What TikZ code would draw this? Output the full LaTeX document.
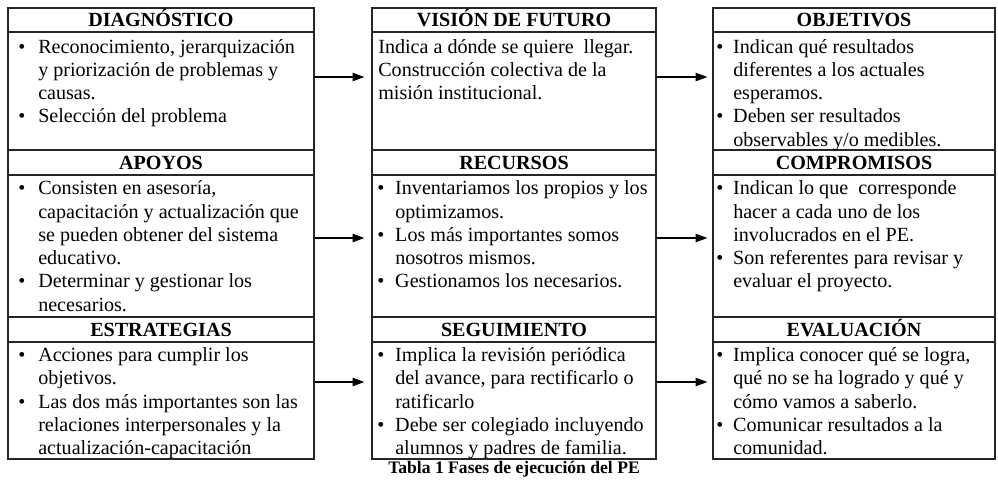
\documentclass[tikz,border=0pt]{standalone}
\usepackage{fontspec}
\setmainfont{Liberation Serif}
\usetikzlibrary{arrows.meta,fit}
\newcommand{\bodyfont}{\fontsize{12}{13.9}\selectfont}
\newcommand{\bu}{\textbullet}
\begin{document}
\begin{tikzpicture}[x=0.597pt,y=-0.597pt,
  cell/.style={draw=black!85, line width=0.75pt, rectangle, inner sep=0pt},
  sepline/.style={draw=black!85, line width=0.75pt},
  head/.style={font=\fontsize{12}{13.9}\selectfont\bfseries, inner sep=0pt, anchor=base},
  body/.style={font=\bodyfont, inner sep=0pt, anchor=north west, align=left},
  arr/.style={draw=black, line width=0.7pt, -{Triangle[length=7pt,width=5pt]}},
  captxt/.style={font=\fontsize{10.5}{12}\selectfont\bfseries, inner sep=0pt, anchor=base}]

\useasboundingbox (0,0) rectangle (998,490);

% ---- cells ----
\node[cell, fit={(8,8) (314,150)}] (diag) {};
\node[cell, fit={(372,8) (656,150)}] (vis) {};
\node[cell, fit={(713,8) (995,150)}] (obj) {};
\node[cell, fit={(8,150) (314,317)}] (apo) {};
\node[cell, fit={(372,150) (656,317)}] (rec) {};
\node[cell, fit={(713,150) (995,317)}] (com) {};
\node[cell, fit={(8,317) (314,459)}] (est) {};
\node[cell, fit={(372,317) (656,459)}] (seg) {};
\node[cell, fit={(713,317) (995,459)}] (eva) {};

% header separators
\foreach \c in {diag,vis,obj} \draw[sepline] (\c.west |- 0,32) -- (\c.east |- 0,32);
\foreach \c in {apo,rec,com} \draw[sepline] (\c.west |- 0,175) -- (\c.east |- 0,175);
\foreach \c in {est,seg,eva} \draw[sepline] (\c.west |- 0,342) -- (\c.east |- 0,342);

% ---- headers ----
\node[head] (diagh) at (161,26.5) {DIAGNÓSTICO};
\node[head] (vish) at (514,26.5) {VISIÓN DE FUTURO};
\node[head] (objh) at (854,26.5) {OBJETIVOS};
\node[head] (apoh) at (161,169.5) {APOYOS};
\node[head] (rech) at (514,169.5) {RECURSOS};
\node[head] (comh) at (854,169.5) {COMPROMISOS};
\node[head] (esth) at (161,336.5) {ESTRATEGIAS};
\node[head] (segh) at (514,336.5) {SEGUIMIENTO};
\node[head] (evah) at (854,336.5) {EVALUACIÓN};

% ---- bodies ----
\node[body] (diagt) at (18,36.5) {\begin{tabular}{@{}p{11.9pt}@{}l@{}}
\bu & Reconocimiento, jerarquización\\
 & y priorización de problemas y\\
 & causas.\\
\bu & Selección del problema
\end{tabular}};

\node[body] (vist) at (378,36.5) {\begin{tabular}{@{}l@{}}
Indica a dónde se quiere \ llegar.\\
Construcción colectiva de la\\
misión institucional.
\end{tabular}};

\node[body] (objt) at (716,36.5) {\begin{tabular}{@{}p{10.1pt}@{}l@{}}
\bu & Indican qué resultados\\
 & diferentes a los actuales\\
 & esperamos.\\
\bu & Deben ser resultados\\
 & observables y/o medibles.
\end{tabular}};

\node[body] (apot) at (18,178.2) {\begin{tabular}{@{}p{11.9pt}@{}l@{}}
\bu & Consisten en asesoría,\\
 & capacitación y actualización que\\
 & se pueden obtener del sistema\\
 & educativo.\\
\bu & Determinar y gestionar los\\
 & necesarios.
\end{tabular}};

\node[body] (rect) at (377,178.2) {\begin{tabular}{@{}p{10.7pt}@{}l@{}}
\bu & Inventariamos los propios y los\\
 & optimizamos.\\
\bu & Los más importantes somos\\
 & nosotros mismos.\\
\bu & Gestionamos los necesarios.
\end{tabular}};

\node[body] (comt) at (716,178.2) {\begin{tabular}{@{}p{10.1pt}@{}l@{}}
\bu & Indican lo que \ corresponde\\
 & hacer a cada uno de los\\
 & involucrados en el PE.\\
\bu & Son referentes para revisar y\\
 & evaluar el proyecto.
\end{tabular}};

\node[body] (estt) at (18,345) {\begin{tabular}{@{}p{11.9pt}@{}l@{}}
\bu & Acciones para cumplir los\\
 & objetivos.\\
\bu & Las dos más importantes son las\\
 & relaciones interpersonales y la\\
 & actualización-capacitación
\end{tabular}};

\node[body] (segt) at (377,345) {\begin{tabular}{@{}p{10.7pt}@{}l@{}}
\bu & Implica la revisión periódica\\
 & del avance, para rectificarlo o\\
 & ratificarlo\\
\bu & Debe ser colegiado incluyendo\\
 & alumnos y padres de familia.
\end{tabular}};

\node[body] (evat) at (716,345) {\begin{tabular}{@{}p{10.1pt}@{}l@{}}
\bu & Implica conocer qué se logra,\\
 & qué no se ha logrado y qué y\\
 & cómo vamos a saberlo.\\
\bu & Comunicar resultados a la\\
 & comunidad.
\end{tabular}};

% ---- arrows ----
\draw[arr, shorten >=4.2pt] (diag.east |- 0,77) -- (vis.west |- 0,77);
\draw[arr, shorten >=3pt] (vis.east |- 0,77) -- (obj.west |- 0,77);
\draw[arr, shorten >=4.2pt] (apo.east |- 0,238) -- (rec.west |- 0,238);
\draw[arr, shorten >=3pt] (rec.east |- 0,238) -- (com.west |- 0,238);
\draw[arr, shorten >=4.2pt] (est.east |- 0,382) -- (seg.west |- 0,382);
\draw[arr, shorten >=3pt] (seg.east |- 0,382) -- (eva.west |- 0,382);

% ---- caption ----
\node[captxt] (caption) at (514,473) {Tabla 1 Fases de ejecución del PE};
\end{tikzpicture}
\end{document}
